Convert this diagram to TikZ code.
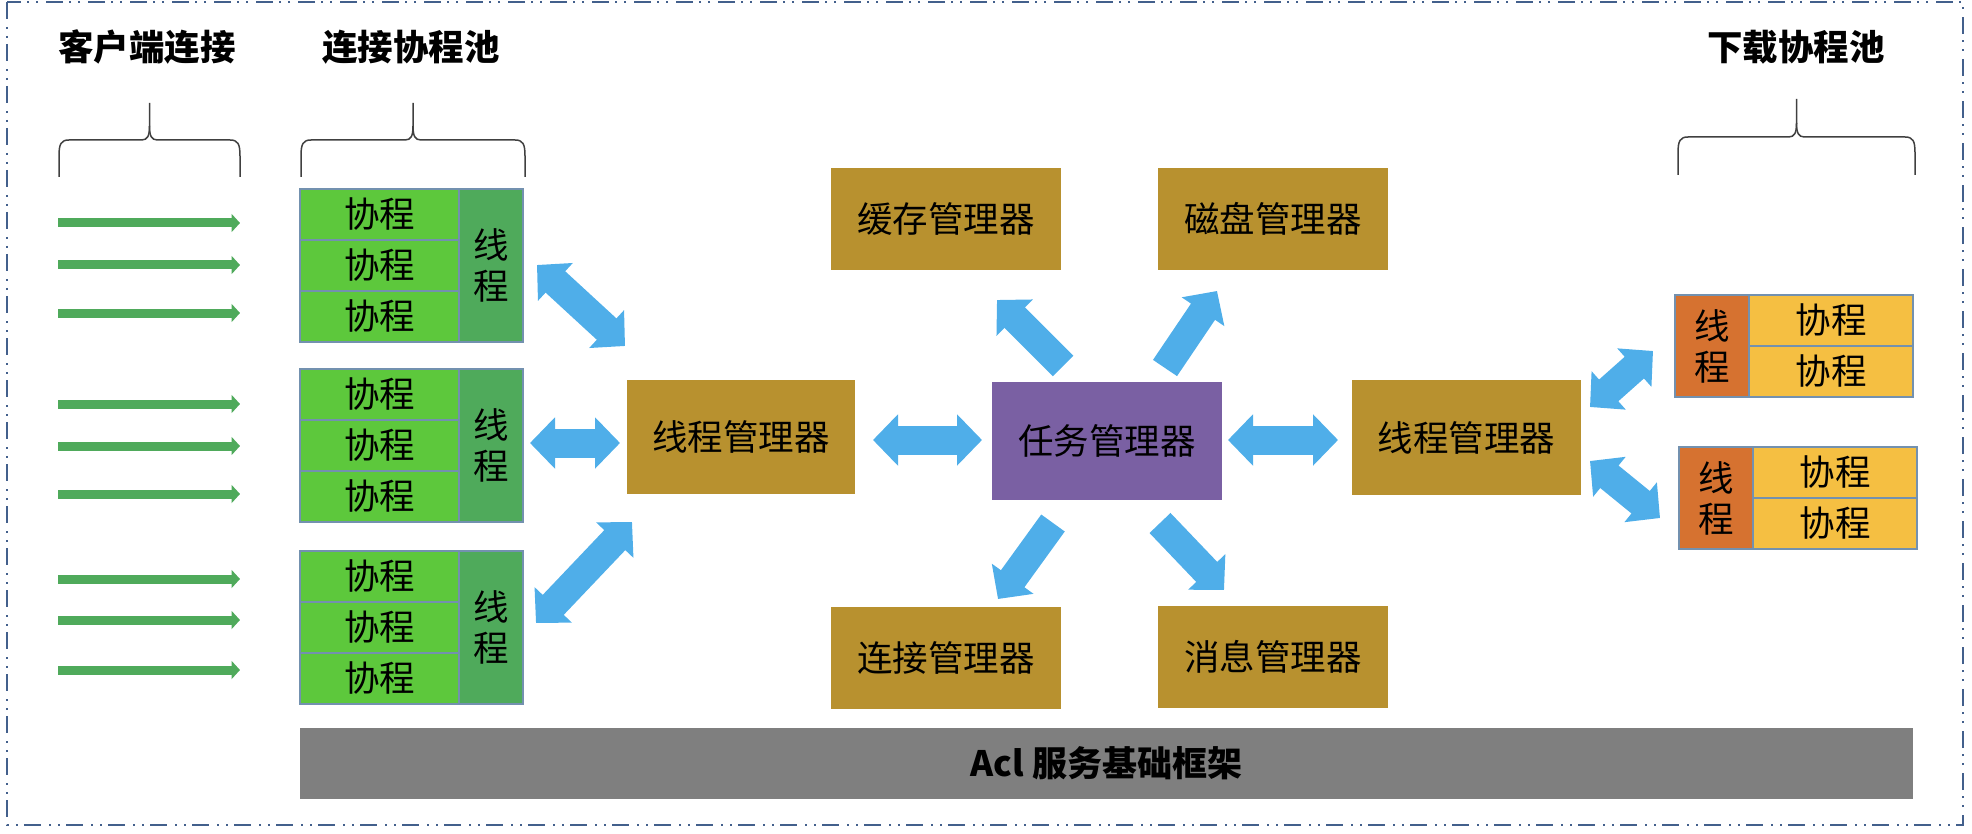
\documentclass[tikz,border=0pt]{standalone}
\usepackage{fontspec}
\setmainfont{Noto Sans CJK SC}
\usetikzlibrary{positioning,arrows.meta}

\definecolor{xcgreen}{HTML}{5DC83C}
\definecolor{thgreen}{HTML}{4FAA5B}
\definecolor{cellline}{HTML}{7391AF}
\definecolor{mgrgold}{HTML}{B8912F}
\definecolor{taskpurple}{HTML}{7A60A3}
\definecolor{flowblue}{HTML}{4FAEE9}
\definecolor{basegray}{HTML}{7F7F7F}
\definecolor{thorange}{HTML}{D67230}
\definecolor{xcyellow}{HTML}{F5BF42}
\definecolor{frameblue}{HTML}{43608C}

\begin{document}
\begin{tikzpicture}[x=1pt,y=-1pt,
  every node/.style={inner sep=0pt,outer sep=0pt,font=\fontsize{35.5}{41}\selectfont},
  cell/.style={draw=cellline,line width=1.5pt},
  xc/.style={cell,fill=xcgreen,minimum width=159pt,minimum height=51pt},
  th/.style={cell,fill=thgreen,minimum width=64pt,minimum height=153pt,align=center},
  dxc/.style={cell,fill=xcyellow,minimum width=164pt,minimum height=51pt},
  dth/.style={cell,fill=thorange,minimum width=74pt,minimum height=102pt,align=center},
  mgr/.style={fill=mgrgold,minimum width=230pt,minimum height=102pt},
  title/.style={font=\fontsize{35.5}{41}\selectfont\bfseries},
  flow/.style={flowblue,line width=29pt,arrows={Triangle[width=50pt,length=25pt]-Triangle[width=50pt,length=25pt]}},
  flowto/.style={flowblue,line width=29pt,arrows={-Triangle[width=50pt,length=25pt]}},
  client/.style={thgreen,line width=9pt,arrows={-Triangle[width=18pt,length=8.5pt]}},
  brace/.style={black!75,line width=1.5pt}]
  \useasboundingbox (0,0) rectangle (1972,834);
  \draw[frameblue,line width=2pt,dash pattern=on 17pt off 8pt on 2pt off 7pt on 2pt off 6pt] (7,2) rectangle (1963,825);

  \node[title] (tclient) at (147,47) {客户端连接};
  \node[title] (tconn) at (411,47) {连接协程池};
  \node[title] (tdown) at (1796,47) {下载协程池};

  \foreach \a/\b/\h/\t/\d in {59/240/140/103/177, 301/525/140/103/177, 1678/1915/137/99/175} {
    \pgfmathsetmacro\m{(\a+\b)/2}
    \draw[brace] (\a,\d) -- (\a,\h+16) .. controls (\a,\h+4) and (\a+2,\h) .. (\a+10,\h) -- (\m-8,\h)
      .. controls (\m-2,\h) and (\m,\h-4) .. (\m,\h-14) -- (\m,\t);
    \draw[brace] (\m,\h-14) .. controls (\m,\h-4) and (\m+2,\h) .. (\m+8,\h) -- (\b-10,\h)
      .. controls (\b-2,\h) and (\b,\h+4) .. (\b,\h+16) -- (\b,\d);
  }

  \foreach \y [count=\i] in {223,265,313,404,446,494,579,620,670} {
    \coordinate (cs\i) at (58,\y);
    \coordinate (ce\i) at (240,\y);
    \draw[client] (cs\i) -- (ce\i);
  }

  \foreach \g/\top in {1/189,2/369,3/551} {
    \node[xc,anchor=north west] (xc\g-a) at (300,\top) {协程};
    \node[xc,below=0pt of xc\g-a] (xc\g-b) {协程};
    \node[xc,below=0pt of xc\g-b] (xc\g-c) {协程};
    \node[th,anchor=north west] (th\g) at (xc\g-a.north east) {线\\程};
  }

  \node[mgr,minimum width=228pt,minimum height=114pt] (tmleft) at (741,437) {线程管理器};
  \node[mgr,fill=taskpurple,minimum height=118pt] (task) at (1107,441) {任务管理器};
  \node[mgr,minimum width=229pt,minimum height=115pt] (tmright) at (1466.5,437.5) {线程管理器};
  \node[mgr] (cache) at (946,219) {缓存管理器};
  \node[mgr] (disk) at (1273,219) {磁盘管理器};
  \node[mgr] (connmgr) at (946,658) {连接管理器};
  \node[mgr] (msg) at (1273,657) {消息管理器};

  \foreach \g/\x/\top in {1/1675/295,2/1679/447} {
    \node[dth,anchor=north west] (dth\g) at (\x,\top) {线\\程};
    \node[dxc,anchor=north west] (dxc\g-a) at (dth\g.north east) {协程};
    \node[dxc,below=0pt of dxc\g-a] (dxc\g-b) {协程};
  }

  \node[fill=basegray,minimum width=1613pt,minimum height=71pt,font=\fontsize{35}{41}\selectfont\bfseries] (base) at (1106.5,763.5) {Acl 服务基础框架};

  \coordinate (p1a) at (537,265);
  \coordinate (p1b) at (625,346);
  \coordinate (p2a) at (530,443);
  \coordinate (p2b) at (620,443);
  \coordinate (p3a) at (536,623);
  \coordinate (p3b) at (632,522);
  \coordinate (ta) at (873,440);
  \coordinate (tb) at (982,440);
  \coordinate (tc) at (1228,440);
  \coordinate (td) at (1338,440);
  \coordinate (u1s) at (1063,366);
  \coordinate (u1e) at (997,300);
  \coordinate (u2s) at (1165,368);
  \coordinate (u2e) at (1217,291);
  \coordinate (d1s) at (1053,523);
  \coordinate (d1e) at (998,599);
  \coordinate (d2s) at (1160,523);
  \coordinate (d2e) at (1224,590);
  \coordinate (r1a) at (1590,407);
  \coordinate (r1b) at (1653,351);
  \coordinate (r2a) at (1590,461);
  \coordinate (r2b) at (1660,518);

  \draw[flow] (p1a) -- (p1b);
  \draw[flow] (p2a) -- (p2b);
  \draw[flow] (p3a) -- (p3b);
  \draw[flow] (ta) -- (tb);
  \draw[flow] (tc) -- (td);
  \draw[flowto] (u1s) -- (u1e);
  \draw[flowto] (u2s) -- (u2e);
  \draw[flowto] (d1s) -- (d1e);
  \draw[flowto] (d2s) -- (d2e);
  \draw[flow] (r1a) -- (r1b);
  \draw[flow] (r2a) -- (r2b);
\end{tikzpicture}
\end{document}
